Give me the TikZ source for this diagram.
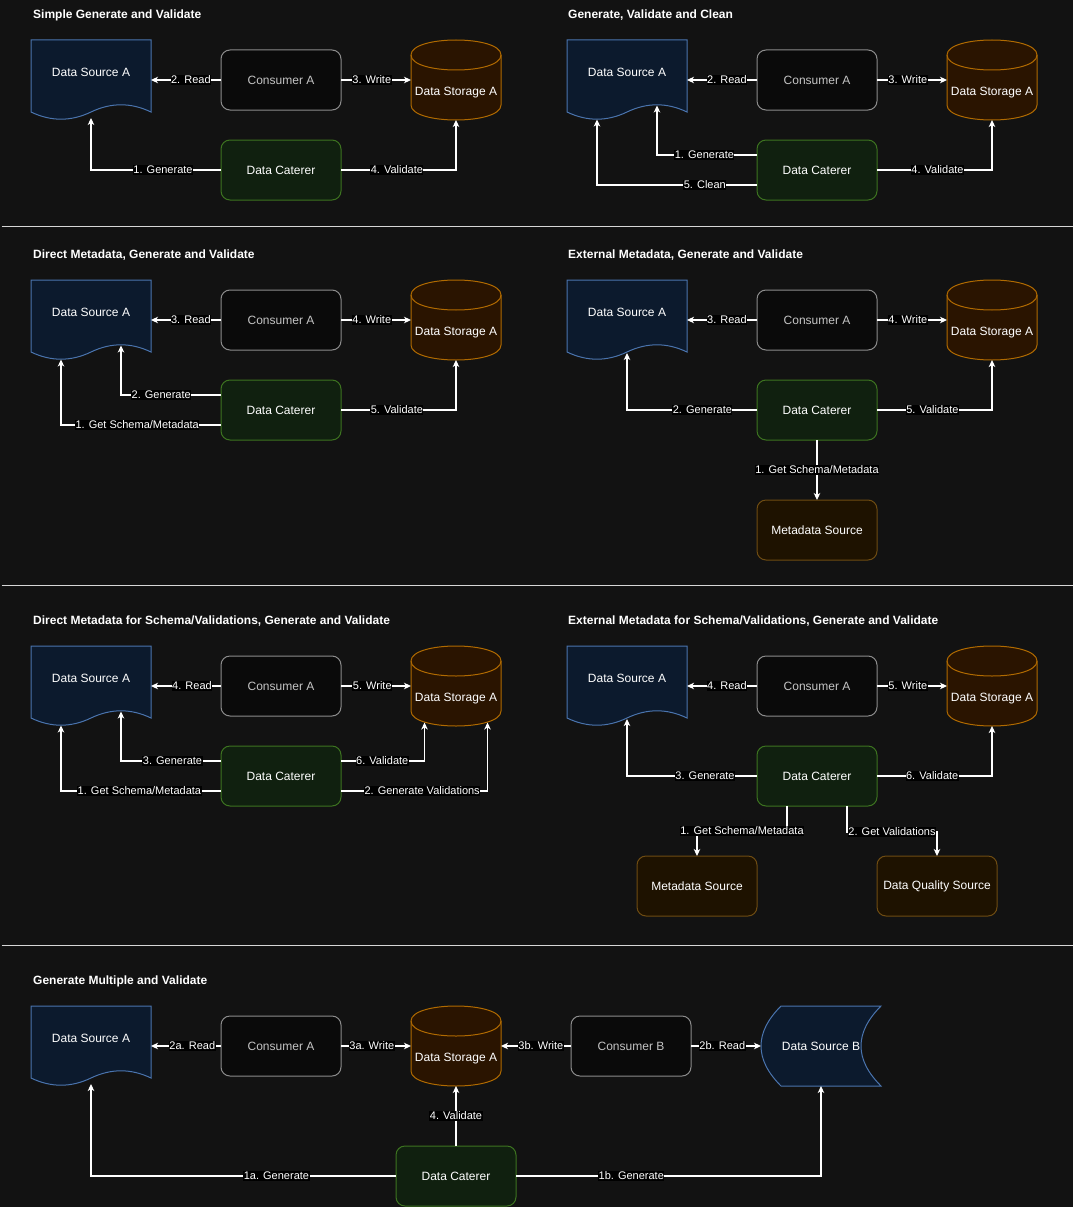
\documentclass[tikz,border=0pt]{standalone}
\usepackage{fontspec}
\setmainfont{Liberation Sans}
\usetikzlibrary{arrows.meta}
\definecolor{bgc}{HTML}{121212}
\definecolor{dsfill}{HTML}{0C1A2D}
\definecolor{dsdraw}{HTML}{4A74AE}
\definecolor{cfill}{HTML}{0A0A0A}
\definecolor{cdraw}{HTML}{8C8C8C}
\definecolor{ctext}{HTML}{C4C4C4}
\definecolor{sfill}{HTML}{2A1400}
\definecolor{sdraw}{HTML}{B06A00}
\definecolor{kfill}{HTML}{10200F}
\definecolor{kdraw}{HTML}{3D7320}
\definecolor{mfill}{HTML}{1E1200}
\definecolor{mdraw}{HTML}{6E4C12}
\definecolor{sepc}{HTML}{D6D6D6}
\tikzset{
 x=1pt, y=-1pt,
 docst/.style={draw=dsdraw, fill=dsfill, line width=1pt},
 cylst/.style={draw=sdraw, fill=sfill, line width=1pt},
 hull/.style={draw=none, fill=none, inner sep=0pt, outer sep=0pt},
 nodetext/.style={font=\fontsize{12}{14}\selectfont, text=white, inner sep=0pt},
 boxbase/.style={rounded corners=9pt, minimum width=120pt, minimum height=60pt, inner sep=0pt, outer sep=0pt, line width=1pt, font=\fontsize{12}{14}\selectfont},
 consbox/.style={boxbase, draw=cdraw, fill=cfill, text=ctext},
 catbox/.style={boxbase, draw=kdraw, fill=kfill, text=white},
 metabox/.style={boxbase, draw=mdraw, fill=mfill, text=white},
 conn/.style={draw=white, line width=1.2pt, -{Stealth[length=7pt,width=6.5pt,inset=2pt]}},
 lbl/.style={fill=black, text=white, font=\fontsize{11}{13}\selectfont, inner xsep=0.5pt, inner ysep=1pt},
 ttl/.style={anchor=west, text=white, font=\bfseries\fontsize{12}{14}\selectfont, inner sep=0pt},
 sepline/.style={draw=sepc, line width=1.6pt},
}
\newcommand\DocShape[4]{%
\begin{scope}[shift={(#2,#3)}]
\draw[docst] (0,0) -- (120,0) -- (120,72) .. controls (100,62.4) and (80,62.4) .. (60,72) .. controls (40,81.6) and (20,81.6) .. (0,72) -- cycle;
\node[hull, minimum width=120pt, minimum height=80pt] (#1) at (60,40) {};
\node[nodetext] (#1t) at (60,32) {#4};
\coordinate (#1q1) at (30,79.5);
\coordinate (#1q3) at (90,65.5);
\coordinate (#1mid) at (60,73);
\coordinate (#1bb) at (60,78);
\end{scope}}
\newcommand\CylShape[4]{%
\begin{scope}[shift={(#2,#3)}]
\draw[cylst] (0,15) .. controls (0,-5) and (90,-5) .. (90,15) -- (90,65) .. controls (90,85) and (0,85) .. (0,65) -- cycle;
\draw[cylst, fill=none] (0,15) .. controls (0,35) and (90,35) .. (90,15);
\node[hull, minimum width=90pt, minimum height=80pt] (#1) at (45,40) {};
\node[nodetext] (#1t) at (45,53) {#4};
\coordinate (#1p1) at (13.5,76.5);
\coordinate (#1p2) at (76.5,76.5);
\end{scope}}
\begin{document}
\begin{tikzpicture}
\useasboundingbox (0,0) rectangle (1073,1207);
\fill[bgc] (0,0) rectangle (1073,1207);
% separators
\draw[sepline] (1.5,226.5) -- (1073,226.5);
\draw[sepline] (1.5,585.5) -- (1073,585.5);
\draw[sepline] (1.5,945.5) -- (1073,945.5);

% ---------- Panel 1
\node[ttl] (t1) at (33,15) {Simple Generate and Validate};
\DocShape{d1}{31}{40}{Data Source A}
\node[consbox] (c1) at (281,80) {Consumer A};
\CylShape{s1}{411}{40}{Data Storage A}
\node[catbox] (k1) at (281,170) {Data Caterer};
\draw[conn] (c1.west) -- node[lbl,pos=0.43]{2. Read} (d1.east);
\draw[conn] (c1.east) -- node[lbl,pos=0.44]{3. Write} (s1.west);
\draw[conn] (k1.west) -| node[lbl,pos=0.223]{1. Generate} (d1bb);
\draw[conn] (k1.east) -| node[lbl,pos=0.243]{4. Validate} (s1.south);

% ---------- Panel 2
\node[ttl] (t2) at (568,15) {Generate, Validate and Clean};
\DocShape{d2}{567}{40}{Data Source A}
\node[consbox] (c2) at (817,80) {Consumer A};
\CylShape{s2}{947}{40}{Data Storage A}
\node[catbox] (k2) at (817,170) {Data Caterer};
\draw[conn] (c2.west) -- node[lbl,pos=0.43]{2. Read} (d2.east);
\draw[conn] (c2.east) -- node[lbl,pos=0.44]{3. Write} (s2.west);
\draw[conn] ([yshift=15pt]k2.west) -| node[lbl,pos=0.263]{1. Generate} (d2q3);
\draw[conn] ([yshift=-15pt]k2.west) -| node[lbl,pos=0.163]{5. Clean} (d2q1);
\draw[conn] (k2.east) -| node[lbl,pos=0.263]{4. Validate} (s2.south);

% ---------- Panel 3
\node[ttl] (t3) at (33,255) {Direct Metadata, Generate and Validate};
\DocShape{d3}{31}{280}{Data Source A}
\node[consbox] (c3) at (281,320) {Consumer A};
\CylShape{s3}{411}{280}{Data Storage A}
\node[catbox] (k3) at (281,410) {Data Caterer};
\draw[conn] (c3.west) -- node[lbl,pos=0.43]{3. Read} (d3.east);
\draw[conn] (c3.east) -- node[lbl,pos=0.44]{4. Write} (s3.west);
\draw[conn] ([yshift=15pt]k3.west) -| node[lbl,pos=0.299]{2. Generate} (d3q3);
\draw[conn] ([yshift=-15pt]k3.west) -| node[lbl,pos=0.262]{1. Get Schema/Metadata} (d3q1);
\draw[conn] (k3.east) -| node[lbl,pos=0.243]{5. Validate} (s3.south);

% ---------- Panel 4
\node[ttl] (t4) at (568,255) {External Metadata, Generate and Validate};
\DocShape{d4}{567}{280}{Data Source A}
\node[consbox] (c4) at (817,320) {Consumer A};
\CylShape{s4}{947}{280}{Data Storage A}
\node[catbox] (k4) at (817,410) {Data Caterer};
\node[metabox] (m4) at (817,530) {Metadata Source};
\draw[conn] (c4.west) -- node[lbl,pos=0.43]{3. Read} (d4.east);
\draw[conn] (c4.east) -- node[lbl,pos=0.44]{4. Write} (s4.west);
\draw[conn] (k4.west) -| node[lbl,pos=0.21]{2. Generate} (d4mid);
\draw[conn] (k4.east) -| node[lbl,pos=0.241]{5. Validate} (s4.south);
\draw[conn] (k4.south) -- node[lbl]{1. Get Schema/Metadata} (m4.north);

% ---------- Panel 5
\node[ttl] (t5) at (33,621) {Direct Metadata for Schema/Validations, Generate and Validate};
\DocShape{d5}{31}{646}{Data Source A}
\node[consbox] (c5) at (281,686) {Consumer A};
\CylShape{s5}{411}{646}{Data Storage A}
\node[catbox] (k5) at (281,776) {Data Caterer};
\draw[conn] (c5.west) -- node[lbl,pos=0.414]{4. Read} (d5.east);
\draw[conn] (c5.east) -- node[lbl,pos=0.447]{5. Write} (s5.west);
\draw[conn] ([yshift=15pt]k5.west) -| node[lbl,pos=0.2425]{3. Generate} (d5q3);
\draw[conn] ([yshift=-15pt]k5.west) -| node[lbl,pos=0.255]{1. Get Schema/Metadata} (d5q1);
\draw[conn] ([yshift=15pt]k5.east) -| node[lbl,pos=0.247]{6. Validate} (s5p1);
\draw[conn] ([yshift=-15pt]k5.east) -| node[lbl,pos=0.277]{2. Generate Validations} (s5p2);

% ---------- Panel 6
\node[ttl] (t6) at (568,621) {External Metadata for Schema/Validations, Generate and Validate};
\DocShape{d6}{567}{646}{Data Source A}
\node[consbox] (c6) at (817,686) {Consumer A};
\CylShape{s6}{947}{646}{Data Storage A}
\node[catbox] (k6) at (817,776) {Data Caterer};
\node[metabox] (m6) at (697,886) {Metadata Source};
\node[metabox] (q6) at (937,886) {Data Quality Source};
\draw[conn] (c6.west) -- node[lbl,pos=0.43]{4. Read} (d6.east);
\draw[conn] (c6.east) -- node[lbl,pos=0.44]{5. Write} (s6.west);
\draw[conn] (k6.west) -| node[lbl,pos=0.2]{3. Generate} (d6mid);
\draw[conn] (k6.east) -| node[lbl,pos=0.24]{6. Validate} (s6.south);
\draw[conn] ([xshift=-30pt]k6.south) -- ++(0,25) coordinate (g1) -- node[lbl]{1. Get Schema/Metadata} (g1 -| m6.north) -- (m6.north);
\draw[conn] ([xshift=30pt]k6.south) -- ++(0,26) coordinate (g2) -- node[lbl]{2. Get Validations} (g2 -| q6.north) -- (q6.north);

% ---------- Panel 7
\node[ttl] (t7) at (33,981) {Generate Multiple and Validate};
\DocShape{d7}{31}{1006}{Data Source A}
\node[consbox] (c7) at (281,1046) {Consumer A};
\CylShape{s7}{411}{1006}{Data Storage A}
\node[consbox] (b7) at (631,1046) {Consumer B};
\begin{scope}[shift={(761,1006)}]
\draw[docst] (20,0) -- (120,0) .. controls (93.33,26.67) and (93.33,53.33) .. (120,80) -- (20,80) .. controls (-6.67,53.33) and (-6.67,26.67) .. (20,0) -- cycle;
\node[hull, minimum width=120pt, minimum height=80pt] (e7) at (60,40) {};
\node[nodetext] (e7t) at (60,40) {Data Source B};
\end{scope}
\node[catbox] (k7) at (456,1176) {Data Caterer};
\draw[conn] (c7.west) -- node[lbl,pos=0.41]{2a. Read} (d7.east);
\draw[conn] (c7.east) -- node[lbl,pos=0.44]{3a. Write} (s7.west);
\draw[conn] (b7.west) -- node[lbl,pos=0.43]{3b. Write} (s7.east);
\draw[conn] (b7.east) -- node[lbl,pos=0.447]{2b. Read} (e7.west);
\draw[conn] (k7.north) -- node[lbl]{4. Validate} (s7.south);
\draw[conn] (k7.west) -| node[lbl,pos=0.196]{1a. Generate} (d7bb);
\draw[conn] (k7.east) -| node[lbl,pos=0.189]{1b. Generate} (e7.south);
\end{tikzpicture}
\end{document}
